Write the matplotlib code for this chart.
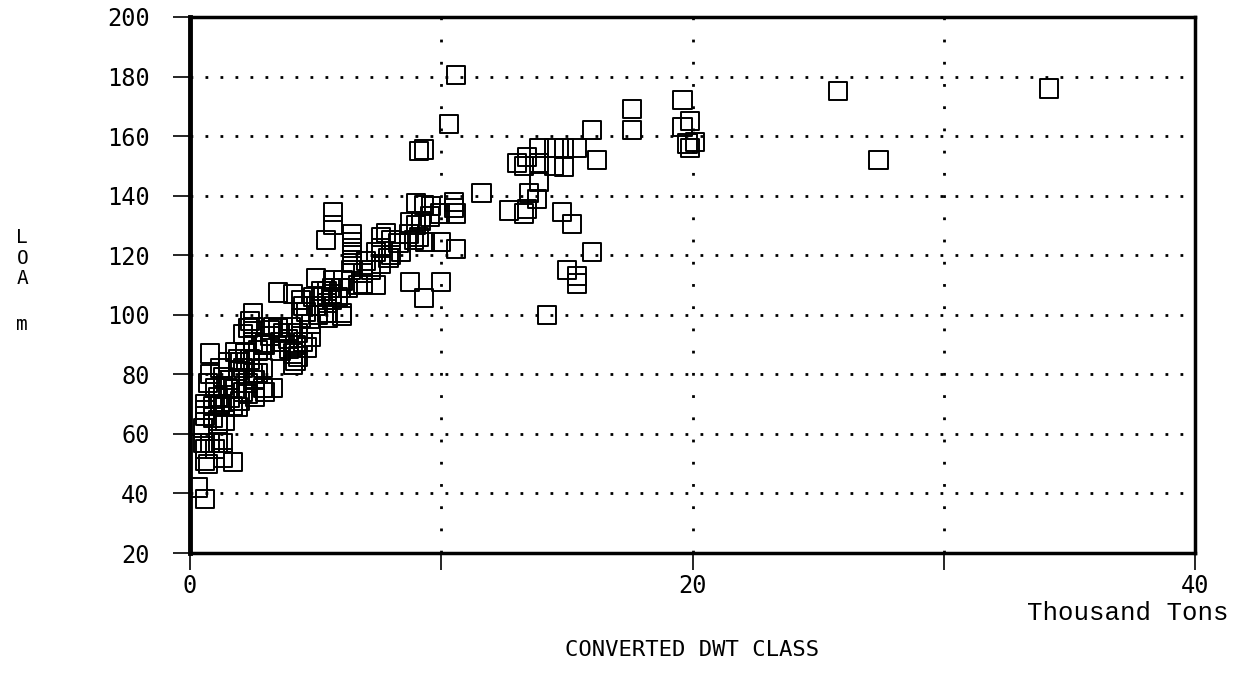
import matplotlib
matplotlib.use('Agg')
import matplotlib.pyplot as plt

# DWT class (thousand tons) vs LOA (m)
dwt_low = [0.3, 0.6, 0.5, 0.8, 1.1, 1.3, 0.6, 0.7, 1.3, 1.7, 0.6, 1.0,
           0.5, 1.1, 0.6, 0.9, 1.1, 1.4, 0.6, 0.9, 1.2, 1.4, 1.7, 1.9, 0.6,
           0.7, 1.0, 1.3, 1.5, 1.8, 2.1, 2.3, 2.6, 1.1, 1.6, 2.0,
           0.8, 1.8, 1.9, 2.2, 2.1, 2.3, 2.5, 2.5, 2.5, 2.4,
           2.6, 2.5, 2.7, 2.1, 1.9, 2.9, 2.9, 3.0, 3.3, 1.6, 1.3, 2.0,
           2.4, 2.7, 2.9, 3.0, 0.8, 1.2, 1.5, 2.3, 3.2]
loa_low = [42, 38, 57, 57, 57, 57, 51, 50, 52, 50.5, 55, 55,
           62, 63.5, 66, 65.5, 64.5, 64.5, 68, 69.5, 70, 69, 69.5, 69, 70,
           77, 75.5, 76, 75.5, 75, 74, 73.5, 72.5, 72.5, 72, 71,
           87, 87.5, 85, 87, 93.5, 95.5, 91, 100.5, 96, 98,
           78, 80.5, 80.5, 82, 81, 82, 75.5, 74, 75.5, 78, 79, 84,
           85, 88, 90, 90.5, 80, 82, 84, 77, 95]

dwt_mid = [3.5, 4.1, 4.4, 4.5, 5.2, 5.45, 5.65, 5.65, 5.45, 5.5, 6.05, 4.8,
           4.8, 4.65, 3.5, 3.7, 3.6, 3.9, 3.6, 3.95, 4.1, 4.3, 4.1, 4.2,
           3.0, 3.2, 3.3, 4.0, 4.3, 4.5, 4.2, 4.4, 4.6, 5.0, 5.1, 4.9, 5.3,
           5.9, 6.0, 5.0, 5.7, 5.65, 6.1, 6.3, 6.05, 5.45]
loa_mid = [107.5, 107, 105, 103, 108, 108, 107, 105, 104, 99, 99.5, 97,
           92.5, 89, 95.5, 94, 91, 92, 88, 88.5, 87, 86, 83, 84.5,
           90, 93, 96, 96, 94, 91, 90, 99, 101, 103, 100, 106, 106,
           106, 109, 112.5, 111.5, 109, 111.5, 109, 100.5, 100.5]

dwt_upper = [5.7, 5.7, 5.4, 6.45, 6.45, 6.45, 6.45, 6.45, 6.4,
             7.8, 7.6, 7.4, 8.0, 8.4, 8.7, 8.9, 9.1, 9.35,
             8.75, 9.0, 9.2, 9.55, 9.95, 9.0, 9.3, 9.6,
             10.0, 8.75, 10.0, 9.3, 6.9, 7.2, 6.7, 7.4, 6.9, 7.0, 7.6, 7.9,
             8.3, 7.6, 8.0, 9.1, 9.3, 10.3, 10.6, 10.5, 10.5, 10.6, 10.6]
loa_upper = [134.5, 130, 125, 127, 124.5, 122.5, 120, 117.5, 115,
             127.5, 122.5, 121, 120, 121, 127, 125, 126, 124.5,
             131, 130, 131.5, 133, 134, 137.5, 137, 136.5,
             124.5, 111, 111, 105.5, 114, 115, 110, 110, 110.5, 118, 117, 119,
             124, 126, 125, 155, 155.5, 164, 180.5, 138, 136, 134, 122]

dwt_right = [11.6, 13.9, 14.5, 14.9, 15.4, 16.2, 13.4, 13.0, 13.3, 14.5,
             14.9, 13.9, 13.9, 13.5, 13.8, 13.4, 12.7, 13.3, 14.8, 15.2,
             16.0, 15.0, 15.4, 15.4, 14.2, 16.0,
             17.6, 17.6, 19.6, 19.9, 19.6, 20.1, 19.8, 19.9,
             25.8, 27.4, 34.2]
loa_right = [141, 156, 156, 156, 156, 152, 153, 151, 150, 150,
             149.5, 151, 144.5, 141, 139, 135.5, 135, 134, 134.5, 130.5,
             121, 115, 110.5, 113, 100, 162,
             169, 162, 172, 165, 163, 158, 157.5, 156,
             175, 152, 176]

dwt = dwt_low + dwt_mid + dwt_upper + dwt_right
loa = loa_low + loa_mid + loa_upper + loa_right

mono = 'DejaVu Sans Mono'

fig = plt.figure(figsize=(12.37, 6.74), dpi=100)
ax = fig.add_axes([0.1536, 0.1795, 0.8125, 0.7953])

ax.scatter(dwt, loa, marker='s', s=170, facecolors='none',
           edgecolors='black', linewidths=1.4, zorder=3)

ax.set_xlim(0, 40)
ax.set_ylim(20, 200)
ax.set_xticks([0, 10, 20, 30, 40])
ax.set_xticklabels(['0', '', '20', '', '40'], fontfamily=mono, fontsize=17)
ax.set_yticks(range(20, 201, 20))
ax.set_yticklabels([str(v) for v in range(20, 201, 20)], fontfamily=mono, fontsize=17)
ax.tick_params(axis='y', direction='out', length=12, width=1.2, pad=17)
ax.tick_params(axis='x', direction='out', length=12, width=1.2, pad=3)

for v in [10, 20, 30]:
    ax.axvline(v, color='black', lw=2, ls=(0, (1, 7)), zorder=1)
for v in range(40, 200, 20):
    ax.axhline(v, color='black', lw=2, ls=(0, (1, 4.4)), zorder=1)

for s in ax.spines.values():
    s.set_linewidth(2.5)
ax.spines['left'].set_linewidth(3.5)

# stacked y label, one letter per line
for ch, yy in [('L', 0.647), ('O', 0.617), ('A', 0.587), ('m', 0.518)]:
    fig.text(0.018, yy, ch, fontfamily=mono, fontsize=14, ha='center', va='center')

fig.text(0.5595, 0.035, 'CONVERTED DWT CLASS', fontfamily=mono, fontsize=16,
         ha='center', va='center')
fig.text(0.993, 0.090, 'Thousand Tons', fontfamily='Liberation Mono', fontsize=18.5,
         ha='right', va='center')

fig.savefig('out.png', dpi=100)
